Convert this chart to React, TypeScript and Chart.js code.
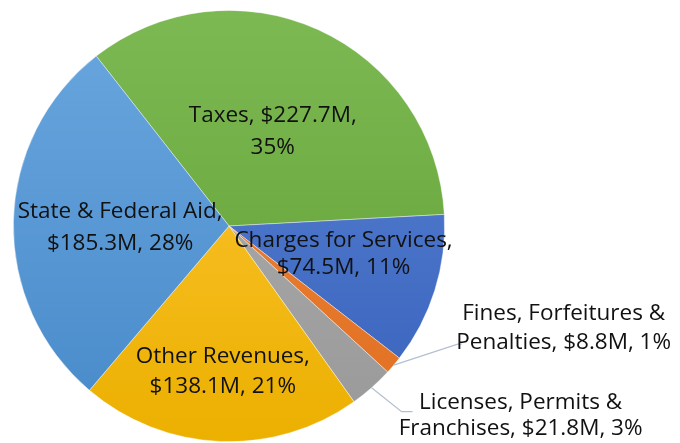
import React, { useEffect, useRef } from "react";
import { Chart, registerables } from "chart.js";

Chart.register(...registerables);

const categories = [
  "Taxes",
  "Charges for Services",
  "Fines, Forfeitures & Penalties",
  "Licenses, Permits & Franchises",
  "Other Revenues",
  "State & Federal Aid",
];
const values = [227.7, 74.5, 8.8, 21.8, 138.1, 185.3];
const percents = [35, 11, 1, 3, 21, 28];
const labelLines = [
  ["Taxes, $227.7M,", "35%"],
  ["Charges for Services,", "$74.5M, 11%"],
  ["Fines, Forfeitures &", "Penalties, $8.8M, 1%"],
  ["Licenses, Permits &", "Franchises, $21.8M, 3%"],
  ["Other Revenues,", "$138.1M, 21%"],
  ["State & Federal Aid,", "$185.3M, 28%"],
];

const topColors = ["#7db953", "#5a84d2", "#f08840", "#b0b0b0", "#ffc83c", "#6aa7df"];
const bottomColors = ["#5f9f33", "#3862bd", "#e06f20", "#999999", "#ecb000", "#4789c9"];

// label placement relative to the arc geometry
const labelSpecs: any[] = [
  { mode: "in", rf: 0.49, dAngle: 0, lh: 32 },
  { mode: "in", rf: 0.545, dAngle: -4.5, lh: 27.5 },
  { mode: "out", elbow: [64, -21], end: [68, -21], text: [170, -39], lh: 28.5 },
  { mode: "out", elbow: [30, 24], end: [41, 24], text: [149, 26], lh: 26.7 },
  { mode: "in", rf: 0.667, dAngle: 0, lh: 30 },
  { mode: "in", rf: 0.505, dAngle: -1, lh: 31.5 },
];

const FONT = "22.5px 'Open Sans'";
const CAP = 16.5;

const labelPlugin = {
  id: "sliceLabels",
  afterDraw(chart: any) {
    const ctx = chart.ctx;
    const meta = chart.getDatasetMeta(0);
    ctx.save();
    ctx.font = FONT;
    ctx.fillStyle = "#111111";
    ctx.textAlign = "center";
    ctx.textBaseline = "alphabetic";
    meta.data.forEach((arc: any, i: number) => {
      const { x, y, startAngle, endAngle, outerRadius } = arc.getProps(
        ["x", "y", "startAngle", "endAngle", "outerRadius"],
        true
      );
      const spec = labelSpecs[i];
      const mid = (startAngle + endAngle) / 2;
      const lines = labelLines[i];
      let cx: number, cy: number;
      if (spec.mode === "in") {
        const a = mid + (spec.dAngle * Math.PI) / 180;
        const r = outerRadius * spec.rf;
        cx = x + Math.cos(a) * r;
        cy = y + Math.sin(a) * r;
      } else {
        const ax = x + Math.cos(mid) * outerRadius;
        const ay = y + Math.sin(mid) * outerRadius;
        ctx.save();
        ctx.strokeStyle = "#b4c0d0";
        ctx.lineWidth = 1.3;
        ctx.beginPath();
        ctx.moveTo(ax, ay);
        ctx.lineTo(ax + spec.elbow[0], ay + spec.elbow[1]);
        ctx.lineTo(ax + spec.end[0], ay + spec.end[1]);
        ctx.stroke();
        ctx.restore();
        cx = ax + spec.text[0];
        cy = ay + spec.text[1];
      }
      const n = lines.length;
      lines.forEach((ln: string, k: number) => {
        const by = cy + (k - (n - 1) / 2) * spec.lh + CAP / 2;
        ctx.fillText(ln, cx, by);
      });
    });
    ctx.restore();
  },
};

export default function App() {
  const ref = useRef<HTMLCanvasElement | null>(null);
  useEffect(() => {
    if (!ref.current) return;
    const chart = new Chart(ref.current, {
      type: "pie",
      data: {
        labels: categories,
        datasets: [
          {
            data: values,
            backgroundColor: (c: any) => {
              const area = c.chart.chartArea;
              const i = c.dataIndex;
              if (!area || i === undefined) return topColors[i ?? 0];
              const g = c.chart.ctx.createLinearGradient(0, area.top, 0, area.bottom);
              g.addColorStop(0, topColors[i]);
              g.addColorStop(1, bottomColors[i]);
              return g;
            },
            borderColor: "rgba(255,255,255,0.5)",
            borderWidth: 0.8,
          },
        ],
      },
      options: {
        responsive: false,
        animation: false,
        rotation: -38,
        layout: { padding: { left: 13, top: 10, right: 235, bottom: 1 } },
        plugins: {
          legend: { display: false },
          tooltip: { enabled: false },
        },
      },
      plugins: [labelPlugin],
    });
    return () => chart.destroy();
  }, []);
  return (
    <div style={{ position: "fixed", left: 0, top: 0, width: 680, height: 443, background: "#fff" }}>
      <canvas ref={ref} width={680} height={443} style={{ display: "block" }} />
    </div>
  );
}
